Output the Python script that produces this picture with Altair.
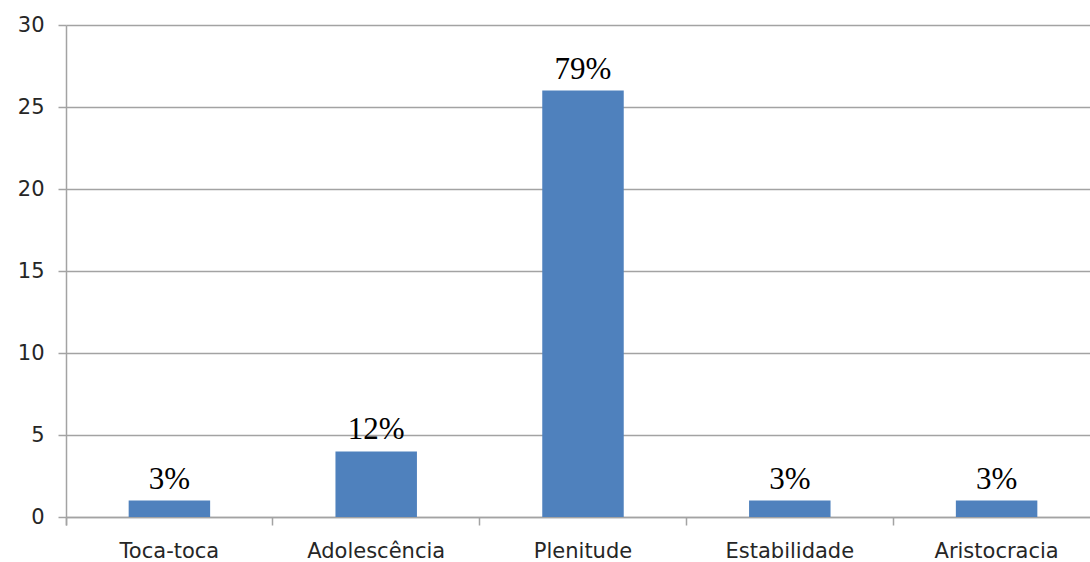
import altair as alt
import pandas as pd

# Category names, counts and the percentage shown above each bar
categories = ["Toca-toca", "Adolescência", "Plenitude", "Estabilidade", "Aristocracia"]
counts = [1, 4, 26, 1, 1]
percent_labels = ["3%", "12%", "79%", "3%", "3%"]
y_ticks = [0, 5, 10, 15, 20, 25, 30]

df = pd.DataFrame({"categoria": categories, "n": counts, "rotulo": percent_labels})

GRID = "#a3a3a3"
LABEL = "#262626"

# Bands fill the whole step so that ticks sit between categories;
# the bars themselves take only part of each band.
x_enc = alt.X(
    "categoria:N",
    sort=categories,
    title=None,
    scale=alt.Scale(range=[0, 1034], paddingInner=0, paddingOuter=0),
    axis=alt.Axis(
        labelAngle=0,
        labelFont="DejaVu Sans",
        labelFontSize=21,
        labelColor=LABEL,
        labelPadding=15,
        bandPosition=0,
        tickExtra=True,
        tickSize=8,
        tickColor=GRID,
        tickWidth=1.5,
        domainColor=GRID,
        domainWidth=1.5,
        grid=False,
    ),
)

y_enc = alt.Y(
    "n:Q",
    title=None,
    scale=alt.Scale(domain=[0, 30], nice=False),
    axis=alt.Axis(
        values=y_ticks,
        labelFont="DejaVu Sans",
        labelFontSize=21,
        labelColor=LABEL,
        labelPadding=14,
        tickSize=8,
        tickColor=GRID,
        tickWidth=1.5,
        domainColor=GRID,
        domainWidth=1.5,
        gridColor=GRID,
        gridWidth=1.5,
        gridOpacity=1,
    ),
)

base = alt.Chart(df).encode(x=x_enc, y=y_enc)

bars = base.mark_bar(color="#4F81BD", width=alt.RelativeBandSize(0.394))

labels = base.mark_text(
    font="Liberation Serif",
    fontSize=31,
    color="#000000",
    baseline="alphabetic",
    dy=-12,
).encode(text="rotulo:N")

chart = (
    alt.layer(bars, labels)
    .properties(
        width=1024,
        height=492,
        background="white",
        padding={"left": 66, "top": 25, "right": 0, "bottom": 45},
        autosize=alt.AutoSizeParams(type="none"),
    )
    .configure_view(stroke=None)
)

chart.save("out.html", embed_options={"renderer": "svg", "actions": False})
